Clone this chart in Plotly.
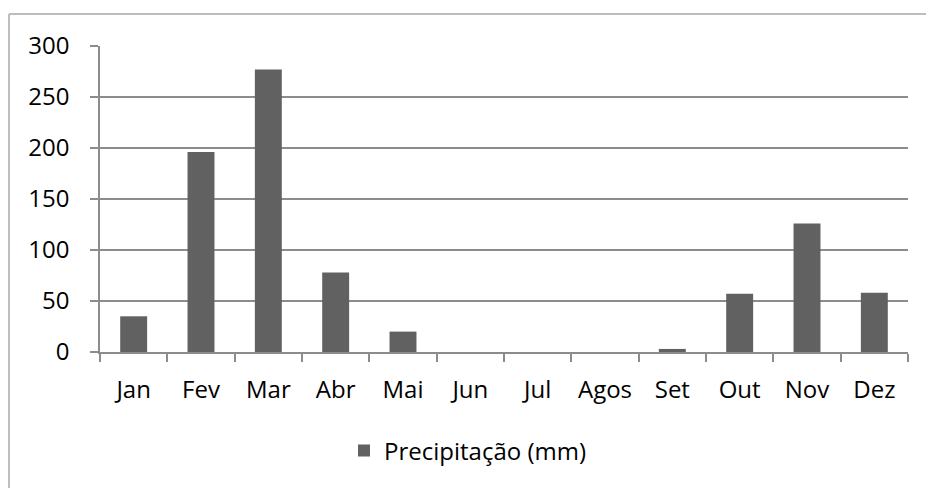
import plotly.graph_objects as go

# Monthly rainfall
meses = ["Jan", "Fev", "Mar", "Abr", "Mai", "Jun", "Jul", "Agos", "Set", "Out", "Nov", "Dez"]
precipitacao = [35, 196, 277, 78, 20, 0, 0, 0, 3, 57, 126, 58]
y_ticks = [0, 50, 100, 150, 200, 250, 300]

W, H = 926, 488
L, R, T, B = 100, 18, 46, 136
pw, ph = W - L - R, H - T - B


def px_x(x):
    return (x - L) / pw


def px_y(y):
    return (H - B - y) / ph


fig = go.Figure(
    go.Bar(
        x=meses,
        y=precipitacao,
        name="Precipitação (mm)",
        marker=dict(color="#616161", line=dict(width=0)),
    )
)

fig.update_layout(
    width=W,
    height=H,
    margin=dict(l=L, r=R, t=T, b=B),
    paper_bgcolor="white",
    plot_bgcolor="white",
    bargap=0.6,
    font=dict(family="Open Sans", size=24, color="#000000"),
    showlegend=True,
    legend=dict(
        orientation="h",
        x=px_x(344),
        xanchor="left",
        y=px_y(451),
        yanchor="middle",
        font=dict(size=24),
        itemwidth=30,
    ),
    xaxis=dict(
        type="category",
        showgrid=False,
        showline=True,
        linecolor="#8c8c8c",
        linewidth=1.5,
        ticks="outside",
        tickson="boundaries",
        ticklen=8,
        tickcolor="#8c8c8c",
        tickwidth=1.5,
        ticklabelstandoff=15,
    ),
    yaxis=dict(
        range=[0, 300],
        tickvals=y_ticks,
        showgrid=True,
        gridcolor="#8c8c8c",
        gridwidth=1.5,
        zeroline=False,
        showline=True,
        linecolor="#8c8c8c",
        linewidth=1.5,
        ticks="outside",
        ticklen=8,
        tickcolor="#8c8c8c",
        tickwidth=1.5,
        ticklabelstandoff=16,
    ),
    shapes=[
        dict(type="line", xref="paper", yref="paper",
             x0=px_x(9), x1=px_x(W + 5), y0=px_y(14), y1=px_y(14),
             line=dict(color="#bdbdbd", width=2)),
        dict(type="line", xref="paper", yref="paper",
             x0=px_x(9), x1=px_x(9), y0=px_y(14), y1=px_y(H + 5),
             line=dict(color="#bdbdbd", width=2)),
    ],
)

fig.write_html("out.html")
